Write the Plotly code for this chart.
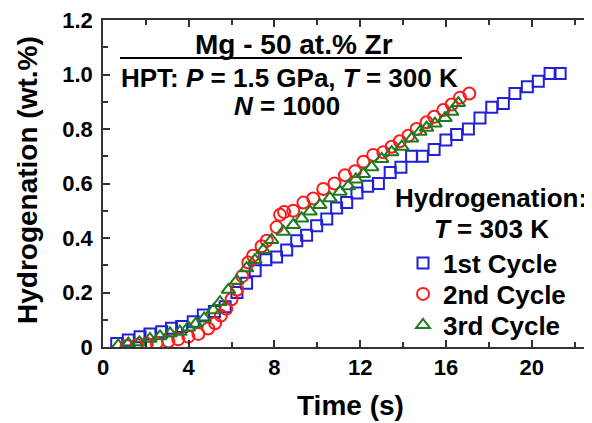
import plotly.graph_objects as go

# 1st cycle (blue squares)
t1 = [0.64, 1.18, 1.73, 2.19, 2.74, 3.2, 3.67, 4.21, 4.68, 5.2, 5.7, 6.25, 6.7, 7.1, 7.6, 8.1,
      8.57, 9.04, 9.5, 9.97, 10.44, 10.9, 11.37, 11.85, 12.35, 12.85, 13.4, 13.9, 14.4, 14.9,
      15.45, 16.0, 16.5, 17.05, 17.59, 18.14, 18.68, 19.22, 19.8, 20.31, 20.86, 21.33]
h1 = [0.013, 0.026, 0.038, 0.048, 0.056, 0.069, 0.075, 0.093, 0.117, 0.13, 0.148, 0.20, 0.234,
      0.28, 0.32, 0.33, 0.356, 0.39, 0.41, 0.445, 0.47, 0.51, 0.53, 0.565, 0.59, 0.60, 0.64,
      0.66, 0.70, 0.70, 0.725, 0.76, 0.78, 0.80, 0.84, 0.88, 0.894, 0.93, 0.955, 0.975, 1.004, 1.004]

# 2nd cycle (red circles)
t2 = [1.1, 1.57, 2.04, 2.5, 3.05, 3.51, 3.98, 4.45, 4.91, 5.23, 5.5, 5.75, 6.0, 6.25, 6.5, 6.78,
      7.0, 7.4, 7.64, 8.1, 8.26, 8.45, 8.88, 9.35, 9.81, 10.28, 10.8, 11.29, 11.76, 12.15, 12.61,
      13.08, 13.47, 13.85, 14.25, 14.63, 15.1, 15.45, 15.88, 16.27, 16.66, 17.09]
h2 = [0.004, 0.007, 0.012, 0.015, 0.02, 0.028, 0.038, 0.048, 0.068, 0.087, 0.115, 0.14, 0.175,
      0.21, 0.26, 0.31, 0.335, 0.37, 0.39, 0.44, 0.485, 0.495, 0.50, 0.53, 0.545, 0.58, 0.60,
      0.63, 0.645, 0.68, 0.705, 0.715, 0.735, 0.755, 0.775, 0.80, 0.825, 0.845, 0.87, 0.89, 0.915, 0.93]

# 3rd cycle (green triangles)
t3 = [0.71, 1.18, 1.7, 2.19, 2.66, 3.13, 3.59, 3.98, 4.33, 4.72, 5.15, 5.46, 5.85, 6.24, 6.7,
      7.09, 7.48, 7.87, 8.41, 8.88, 9.27, 9.66, 10.12, 10.59, 11.06, 11.45, 11.8, 12.15, 12.54,
      13.0, 13.47, 13.94, 14.4, 14.79, 15.1, 15.49, 15.96, 16.27, 16.58]
h3 = [0.006, 0.012, 0.017, 0.03, 0.039, 0.05, 0.056, 0.072, 0.085, 0.105, 0.135, 0.165, 0.21,
      0.243, 0.289, 0.319, 0.356, 0.393, 0.423, 0.448, 0.472, 0.497, 0.521, 0.546, 0.57, 0.59,
      0.615, 0.635, 0.66, 0.69, 0.715, 0.735, 0.765, 0.79, 0.805, 0.82, 0.84, 0.863, 0.895]

x_ticks = [0, 4, 8, 12, 16, 20]
y_ticks = [0, 0.2, 0.4, 0.6, 0.8, 1.0, 1.2]
y_labels = ["0", "0.2", "0.4", "0.6", "0.8", "1.0", "1.2"]

FONT = "Liberation Sans, Arial, sans-serif"
BLUE = "#2020D8"
RED = "#FF1A1A"
GREEN = "#1E7A1E"

# page has an 8px body margin: figure is drawn from screen (8, 8)
OFF = 8
W, H = 592 - OFF, 423 - OFF
# plot area in screen pixels
L, R, T, B = 103, 591, 20, 347


def px(xs):
    return (xs - L) / (R - L)


def py(ys):
    return (B - ys) / (B - T)


fig = go.Figure()
fig.add_trace(go.Scatter(x=t1, y=h1, mode="markers", name="<b>1st Cycle</b>", legend="legend",
                         marker=dict(symbol="square-open", size=11, color=BLUE, line=dict(width=2))))
fig.add_trace(go.Scatter(x=t2, y=h2, mode="markers", name="<b>2nd Cycle</b>", legend="legend2",
                         marker=dict(symbol="circle-open", size=12, color=RED, line=dict(width=2))))
fig.add_trace(go.Scatter(x=t3, y=h3, mode="markers", name="<b>3rd Cycle</b>", legend="legend3",
                         marker=dict(symbol="triangle-up-open", size=12, color=GREEN, line=dict(width=2))))

axis_common = dict(showline=True, linecolor="#333", linewidth=1.5, mirror="ticks",
                   ticks="inside", tickcolor="#333", tickwidth=1.5, ticklen=7,
                   showgrid=False, zeroline=False, automargin=False, ticklabeloverflow="allow",
                   tickfont=dict(family=FONT, size=22, color="black", weight="bold"))

fig.update_xaxes(range=[0, 22.77], tickvals=x_ticks, ticktext=[str(v) for v in x_ticks],
                 minor=dict(dtick=2, ticks="inside", ticklen=5, tickcolor="#333", tickwidth=1.5),
                 **axis_common)
fig.update_yaxes(range=[0, 1.2], tickvals=y_ticks, ticktext=y_labels, ticklabelstandoff=4,
                 minor=dict(dtick=0.1, ticks="inside", ticklen=5, tickcolor="#333", tickwidth=1.5),
                 **axis_common)


def label(xs, ys, text, size=26, angle=0):
    fig.add_annotation(x=px(xs), y=py(ys), xref="paper", yref="paper", text=text,
                       xanchor="center", yanchor="middle", textangle=angle,
                       showarrow=False, font=dict(family=FONT, size=size, color="black"))


# axis titles
label(350, 406, "<b>Time (s)</b>", 28)
label(27, 180, "<b>Hydrogenation (wt.%)</b>", 28, -90)

# header text
label(294, 44, "<b>Mg - 50 at.% Zr</b>", 28)
fig.add_shape(type="line", x0=px(120), x1=px(462), y0=py(58), y1=py(58), xref="paper", yref="paper",
              line=dict(color="black", width=2))
label(289, 78, "<b>HPT: <i>P</i> = 1.5 GPa, <i>T</i> = 300 K</b>")
label(287, 106, "<b><i>N</i> = 1000</b>")

# legend title
label(491, 198, "<b>Hydrogenation:</b>")
label(491, 229, "<b><i>T</i> = 303 K</b>")

leg = dict(x=px(403), xanchor="left", yanchor="middle", bgcolor="rgba(0,0,0,0)", borderwidth=0,
           font=dict(family=FONT, size=26, color="black"), itemwidth=30, tracegroupgap=0)

fig.update_layout(
    width=W, height=H,
    margin=dict(l=L - OFF, r=W - (R - OFF), t=T - OFF, b=H - (B - OFF), autoexpand=False),
    paper_bgcolor="white", plot_bgcolor="white",
    showlegend=True,
    legend=dict(leg, y=py(263)),
    legend2=dict(leg, y=py(294)),
    legend3=dict(leg, y=py(325)),
)

fig.write_html("out.html")
